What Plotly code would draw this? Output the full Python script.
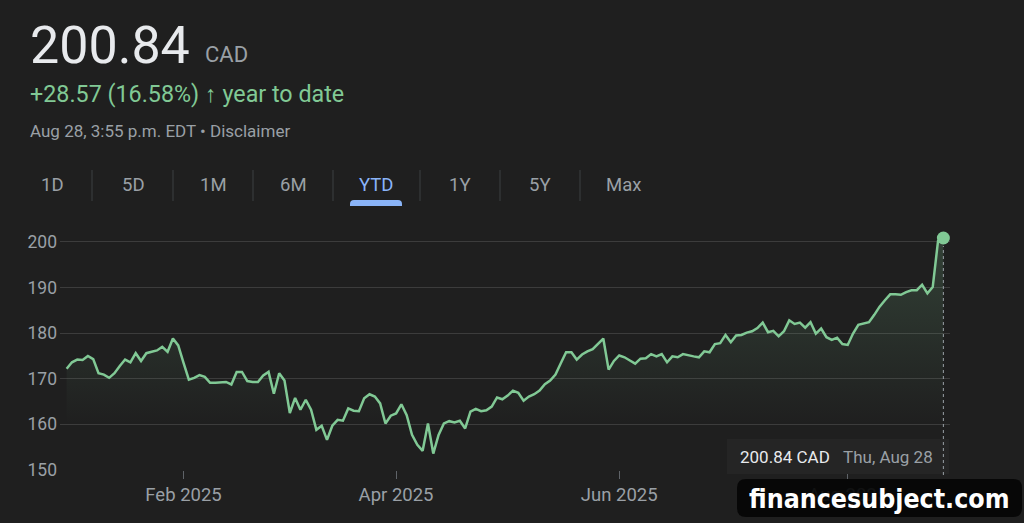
import plotly.graph_objects as go
import pandas as pd

# ---------------- data ----------------
holidays = ["2025-02-17", "2025-04-18", "2025-05-19", "2025-07-01", "2025-08-04"]
trade_dates = [d.strftime("%Y-%m-%d") for d in pd.bdate_range("2025-01-02", "2025-08-28")
               if d.strftime("%Y-%m-%d") not in holidays]

prices = [
    172.2, 173.6, 174.2, 174.1, 175.0, 174.3, 171.2, 170.9, 170.2, 171.2,
    172.8, 174.2, 173.6, 175.6, 173.9, 175.6, 175.9, 176.2, 177.0, 175.9,
    178.8, 177.3, 173.5, 169.8, 170.2, 170.8, 170.4, 169.1, 169.1, 169.2,
    169.3, 168.75, 171.5, 171.5, 169.5, 169.3, 169.3, 170.7, 171.5, 166.7,
    171.2, 169.6, 162.5, 165.8, 163.2, 165.4, 163.2, 158.8, 159.7, 156.6,
    159.7, 161.0, 160.8, 163.5, 163.0, 162.9, 165.7, 166.6, 166.1, 164.6,
    160.2, 161.9, 162.4, 164.4, 162.0, 157.7, 155.5, 154.2, 160.2, 153.6,
    157.7, 160.2, 160.7, 160.4, 160.8, 159.1, 162.8, 163.4, 162.9, 163.1,
    163.9, 165.9, 165.5, 166.3, 167.4, 166.9, 165.2, 166.1, 166.6, 167.4,
    168.8, 169.6, 170.9, 173.4, 175.8, 175.8, 174.2, 175.3, 176.0, 176.5,
    177.7, 178.8, 172.0, 173.9, 175.1, 174.7, 174.0, 173.3, 174.4, 174.5,
    175.4, 174.9, 175.4, 173.6, 174.9, 174.7, 175.4, 175.1, 174.9, 174.7,
    176.0, 175.8, 177.6, 177.8, 179.6, 178.0, 179.5, 179.6, 180.1, 180.4,
    181.1, 182.3, 180.2, 180.5, 179.3, 180.4, 182.8, 182.0, 182.3, 181.2,
    182.4, 179.9, 181.0, 179.1, 178.5, 179.0, 177.6, 177.4, 179.9, 181.8,
    182.1, 182.4, 184.0, 185.8, 187.2, 188.5, 188.5, 188.4, 189.0, 189.4,
    189.4, 190.6, 188.7, 190.1, 200.2, 200.84,
]
n = min(len(trade_dates), len(prices))
trade_dates = trade_dates[:n]
prices = prices[:n]

x_tick_vals = ["2025-02-03", "2025-04-01", "2025-06-02", "2025-08-01"]
x_tick_text = ["Feb 2025", "Apr 2025", "Jun 2025", "Aug 2025"]
y_tick_vals = [150, 160, 170, 180, 190, 200]

tabs = ["1D", "5D", "1M", "6M", "YTD", "1Y", "5Y", "Max"]
tab_centers = [52, 133, 213, 293, 376, 460, 540, 623]
separators = [92, 173, 253, 333, 420, 500, 580]

last_price = "200.84"
change_text = "+28.57 (16.58%) <b>↑</b> year to date"
stamp_text = "Aug 28, 3:55 p.m. EDT • Disclaimer"

# ---------------- geometry helpers ----------------
W, H = 1024, 523
L, R, T, B = 60, 950, 235, 470


def px(x):
    return (x - L) / (R - L)


def py(y):
    return (B - y) / (B - T)


BG = "#1f1f1f"
GREEN = "#81c995"
GRAY = "#9aa0a6"
WHITE = "#e8eaed"
BLUE = "#8ab4f8"
FONT = "Roboto"

fig = go.Figure()
fig.add_trace(go.Scatter(
    x=trade_dates, y=prices, mode="lines",
    line=dict(color=GREEN, width=2.5),
    fill="tozeroy",
    fillgradient=dict(type="vertical",
                      colorscale=[[0, "rgba(129,201,149,0)"], [1, "rgba(129,201,149,0.2)"]],
                      start=160, stop=201),
    hoverinfo="skip", showlegend=False,
))
fig.add_trace(go.Scatter(
    x=[trade_dates[-1]], y=[prices[-1]], mode="markers",
    marker=dict(color=GREEN, size=13), cliponaxis=False,
    hoverinfo="skip", showlegend=False,
))

ann = []


def text(x, y, s, size, color, anchor="left", weight="normal", family=FONT):
    ann.append(dict(x=px(x), y=py(y), xref="paper", yref="paper", text=s, showarrow=False,
                    xanchor=anchor, yanchor="middle",
                    font=dict(size=size, color=color, family=family, weight=weight)))


text(28, 45, last_price, 52, WHITE)
text(203, 54, "CAD", 22, GRAY)
text(28, 94, change_text, 23.3, GREEN)
text(28, 131, stamp_text, 17, GRAY)
for t, c in zip(tabs, tab_centers):
    text(c, 185, t, 18.5, BLUE if t == "YTD" else GRAY, anchor="center")

# tooltip texts
text(738, 457, "200.84 CAD", 17, WHITE)
text(841, 457, "Thu, Aug 28", 17, GRAY)

shapes = []
for s in separators:
    shapes.append(dict(type="line", xref="paper", yref="paper", x0=px(s), x1=px(s),
                       y0=py(170), y1=py(201), line=dict(color="#3c4043", width=1)))
# YTD underline pill (rounded top)
x0, x1, yt, yb = 350, 402, 200, 206
r = 4
path = (f"M {px(x0)} {py(yb)} L {px(x0)} {py(yt + r)} "
        f"Q {px(x0)} {py(yt)} {px(x0 + r)} {py(yt)} L {px(x1 - r)} {py(yt)} "
        f"Q {px(x1)} {py(yt)} {px(x1)} {py(yt + r)} L {px(x1)} {py(yb)} Z")
shapes.append(dict(type="path", xref="paper", yref="paper", path=path,
                   fillcolor=BLUE, line=dict(width=0)))
# tooltip box
shapes.append(dict(type="rect", xref="paper", yref="paper", x0=px(727), x1=px(949),
                   y0=py(474), y1=py(439), fillcolor="#252525", line=dict(width=0), layer="above"))
# dotted cursor line
shapes.append(dict(type="line", xref="x", yref="paper", x0=trade_dates[-1], x1=trade_dates[-1],
                   y0=py(475), y1=py(246), line=dict(color=GRAY, width=1, dash="dot"), layer="above"))
# watermark box (rounded)
wx0, wx1, wy0, wy1, rr = 737, 1022, 479, 517, 9
wpath = (f"M {px(wx0 + rr)} {py(wy0)} L {px(wx1 - rr)} {py(wy0)} "
         f"Q {px(wx1)} {py(wy0)} {px(wx1)} {py(wy0 + rr)} L {px(wx1)} {py(wy1 - rr)} "
         f"Q {px(wx1)} {py(wy1)} {px(wx1 - rr)} {py(wy1)} L {px(wx0 + rr)} {py(wy1)} "
         f"Q {px(wx0)} {py(wy1)} {px(wx0)} {py(wy1 - rr)} L {px(wx0)} {py(wy0 + rr)} "
         f"Q {px(wx0)} {py(wy0)} {px(wx0 + rr)} {py(wy0)} Z")
shapes.append(dict(type="path", xref="paper", yref="paper", path=wpath,
                   fillcolor="rgba(5,5,5,0.92)", line=dict(width=0), layer="above"))
# watermark
text(879, 498, "<b>financesubject.com</b>", 26.5, "#ffffff", anchor="center",
     family="DejaVu Sans Condensed")

fig.update_layout(
    width=W, height=H,
    margin=dict(l=L, r=W - R, t=T, b=H - B, pad=0),
    paper_bgcolor=BG, plot_bgcolor=BG,
    font=dict(family=FONT, color=GRAY),
    annotations=ann, shapes=shapes,
    hovermode=False,
    xaxis=dict(
        type="date",
        range=["2024-12-31 18:00", "2025-08-29 06:00"],
        rangebreaks=[dict(bounds=["sat", "mon"]), dict(values=holidays)],
        tickmode="array", tickvals=x_tick_vals, ticktext=x_tick_text,
        ticks="outside", ticklen=8, tickcolor="#5f6368", tickwidth=1,
        tickfont=dict(size=18.5, color=GRAY, family=FONT),
        showgrid=False, zeroline=False, showline=False,
    ),
    yaxis=dict(
        range=[150, 201.5],
        tickmode="array", tickvals=y_tick_vals,
        tickfont=dict(size=17.5, color=GRAY, family=FONT),
        showgrid=True, gridcolor="#3c3c3c", gridwidth=1,
        zeroline=False, showline=False, ticks="",
        ticklabelstandoff=2,
    ),
)

fig.write_html("out.html")
